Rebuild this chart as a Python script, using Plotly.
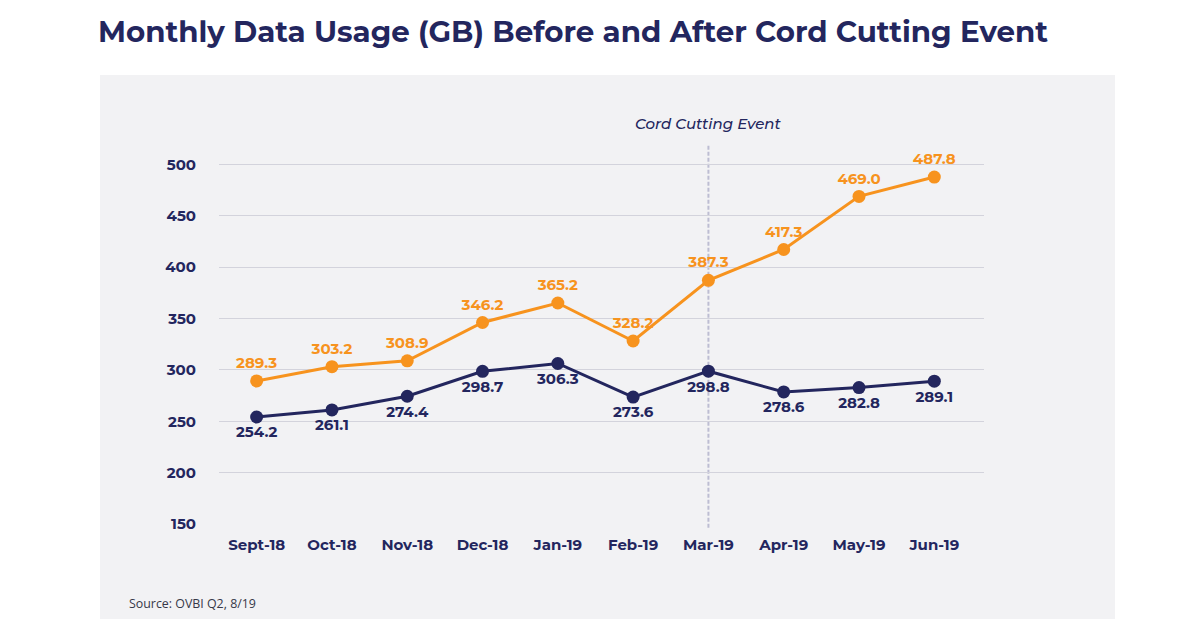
import plotly.graph_objects as go

months = ["Sept-18", "Oct-18", "Nov-18", "Dec-18", "Jan-19", "Feb-19",
          "Mar-19", "Apr-19", "May-19", "Jun-19"]
after_event = [289.3, 303.2, 308.9, 346.2, 365.2, 328.2, 387.3, 417.3, 469.0, 487.8]
before_event = [254.2, 261.1, 274.4, 298.7, 306.3, 273.6, 298.8, 278.6, 282.8, 289.1]
y_ticks = [150, 200, 250, 300, 350, 400, 450, 500]
event_month = "Mar-19"

ORANGE = "#F7931E"
NAVY = "#23265E"
PANEL = "#F2F2F4"
FONT = "Montserrat, Lato, Inter, sans-serif"

# page has an 8px body margin; figure placed so plot area sits at x 219..984, y 144..524
W, H = 1192, 620
L, T, PW, PH = 211, 136, 765, 380
R, B = W - L - PW, H - T - PH

x_idx = list(range(len(months)))

fig = go.Figure()
fig.add_trace(go.Scatter(
    x=x_idx, y=before_event, mode="lines+markers+text",
    line=dict(color=NAVY, width=3), marker=dict(color=NAVY, size=13),
    text=[f"{v:.1f}" for v in before_event], textposition="bottom center",
    textfont=dict(color=NAVY, size=15, family=FONT, weight="bold"),
    cliponaxis=False, showlegend=False))
fig.add_trace(go.Scatter(
    x=x_idx, y=after_event, mode="lines+markers+text",
    line=dict(color=ORANGE, width=3), marker=dict(color=ORANGE, size=13),
    text=[f"{v:.1f}" for v in after_event], textposition="top center",
    textfont=dict(color=ORANGE, size=15, family=FONT, weight="bold"),
    cliponaxis=False, showlegend=False))

ev = months.index(event_month)
# background panel (screen px converted to paper coords)
fig.add_shape(type="rect", xref="paper", yref="paper",
              x0=(100 - 219) / PW, x1=(1115 - 219) / PW,
              y0=(524 - 619) / PH, y1=(524 - 75) / PH,
              fillcolor=PANEL, line_width=0, layer="below")
fig.add_shape(type="line", xref="x", yref="paper", x0=ev, x1=ev,
              y0=-0.01, y1=1.0, line=dict(color="#BDBDD2", width=2, dash="4px,2px"),
              layer="below")
fig.add_annotation(x=ev, xref="x", y=(524 - 112) / PH, yref="paper",
                   text="<i>Cord Cutting Event</i>", showarrow=False,
                   font=dict(color=NAVY, size=15, family=FONT, weight=500))

fig.add_annotation(x=(127 - 219) / PW, xref="paper", y=(524 - 614) / PH, yref="paper",
                   text="Source: OVBI Q2, 8/19", showarrow=False, xanchor="left",
                   font=dict(color="#363848", size=12.4, family="Open Sans, sans-serif", weight=500))

fig.update_layout(
    width=W, height=H,
    margin=dict(l=L, r=R, t=T, b=B, autoexpand=False),
    paper_bgcolor="white", plot_bgcolor=PANEL,
    title=dict(text="<b>Monthly Data Usage (GB) Before and After Cord Cutting Event</b>",
               x=90 / W, xanchor="left", y=1 - 24 / H, yanchor="middle",
               font=dict(color=NAVY, size=29.3, family=FONT)),
    xaxis=dict(range=[-0.5, 9.66], tickvals=x_idx, ticktext=months,
               showgrid=False, zeroline=False, showline=False,
               tickfont=dict(color=NAVY, size=15, family=FONT, weight="bold"),
               ticks="", ticklabelstandoff=10),
    yaxis=dict(range=[150, 520], tickvals=y_ticks, showgrid=True,
               gridcolor="#D3D3DC", gridwidth=1, zeroline=False, showline=False,
               tickfont=dict(color=NAVY, size=15, family=FONT, weight="bold"),
               ticks="", ticklabelstandoff=22),
)

fig.write_html("out.html")
